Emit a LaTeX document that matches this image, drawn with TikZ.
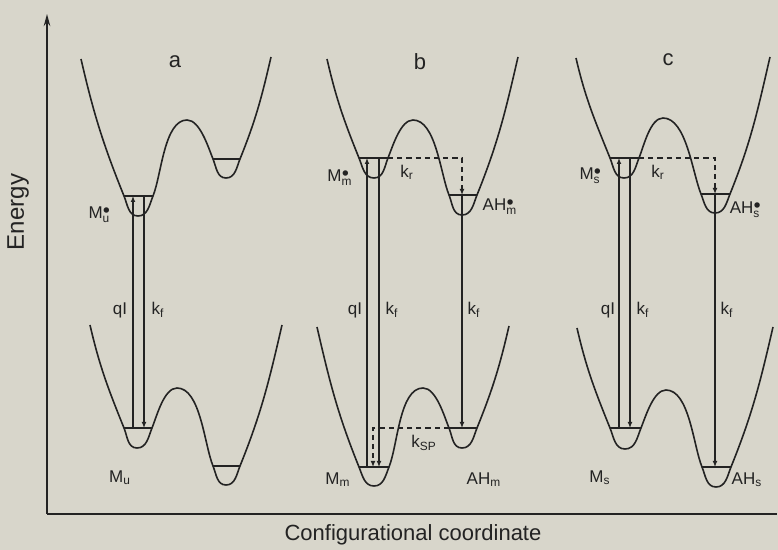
\documentclass[tikz,border=0pt]{standalone}
\usepackage{amsmath}
\usepackage{fontspec}
\setmainfont{Liberation Sans}
\usetikzlibrary{arrows.meta}

\definecolor{paper}{RGB}{216,214,203}
\definecolor{ink}{RGB}{35,35,35}

% excited and ground state labels
\newcommand*{\ex}[2]{#1$^{\bullet}_{\text{#2}}$}
\newcommand*{\gs}[2]{#1$_{\text{#2}}$}

\begin{document}
\begin{tikzpicture}
[
	x=0.5pt, y=0.5pt, yscale=-1,
	axis/.style={ink,line width=1pt},
	curve/.style={ink,line width=0.8pt},
	level/.style={ink,line width=0.6pt},
	trans/.style={ink,line width=0.55pt,-{Latex[length=3pt,width=2.4pt]}},
	nrt/.style={ink,line width=0.6pt,dash pattern=on 2.6pt off 2pt,-{Latex[length=3pt,width=2.4pt]}},
	lbl/.style={ink,inner sep=0pt,font=\fontsize{8.5}{10}\selectfont},
	panel/.style={ink,inner sep=0pt,font=\fontsize{11}{13}\selectfont},
	axlbl/.style={ink,inner sep=0pt,font=\fontsize{11}{13}\selectfont}
]

	\fill[paper] (0,0) rectangle (778,550);
	\useasboundingbox (0,0) rectangle (778,550);

	% axes
	\coordinate (O) at (47,514);
	\coordinate (ytop) at (47,14);
	\coordinate (xend) at (777,514);
	\draw[axis,-{Stealth[length=6pt,width=3.2pt]}] (O) -- (ytop);
	\draw[axis] (O) -- (xend);
	\node[axlbl,rotate=90,font=\fontsize{12}{14}\selectfont] (energy) at (18,212) {Energy};
	\node[axlbl] (config) at (413,535) {Configurational coordinate};

	% potential curves

	% a
	\draw[curve] (81,59) to[out=77,in=-112] (124,196) to[out=68,in=180] (138,216) to[out=0,in=112] (153,196)
		to[out=-68,in=180,looseness=.7] (187,120) to[out=0,in=-112,looseness=.7] (213,159)
		to[out=68,in=180] (226,178) to[out=0,in=112] (240,159) to[out=-68,in=103] (271,57);
	\draw[curve] (90,325) to[out=77,in=-112] (124,428) to[out=68,in=180] (137,448) to[out=0,in=112] (152,428)
		to[out=-68,in=180,looseness=.7] (177,388) to[out=0,in=-112,looseness=.7] (213,466)
		to[out=68,in=180] (226,485) to[out=0,in=112] (240,466) to[out=-68,in=103] (282,325);
	\draw[level] (124,196) -- (153,196);
	\draw[level] (213,159) -- (240,159);
	\draw[level] (124,428) -- (152,428);
	\draw[level] (213,466) -- (240,466);

	% b
	\draw[curve] (327,59) to[out=77,in=-112] (359,158) to[out=68,in=180] (374,178) to[out=0,in=112] (388,158)
		to[out=-68,in=180,looseness=.7] (413,120) to[out=0,in=-112,looseness=.7] (449,195)
		to[out=68,in=180] (462,215) to[out=0,in=112] (477,195) to[out=-68,in=103] (518,57);
	\draw[curve] (317,327) to[out=77,in=-112] (359,467) to[out=68,in=180] (374,486) to[out=0,in=112] (389,467)
		to[out=-68,in=180,looseness=.7] (423,388) to[out=0,in=-112,looseness=.7] (449,428)
		to[out=68,in=180] (462,448) to[out=0,in=112] (477,428) to[out=-68,in=103] (509,326);
	\draw[level] (359,158) -- (388,158);
	\draw[level] (449,195) -- (477,195);
	\draw[level] (359,467) -- (389,467);
	\draw[level] (449,428) -- (477,428);

	% c
	\draw[curve] (576,58) to[out=77,in=-112] (610,158) to[out=68,in=180] (624,178) to[out=0,in=112] (639,158)
		to[out=-68,in=180,looseness=.7] (663,118) to[out=0,in=-112,looseness=.7] (701,194)
		to[out=68,in=180] (715,213) to[out=0,in=112] (730,194) to[out=-68,in=103] (770,57);
	\draw[curve] (577,328) to[out=77,in=-112] (610,428) to[out=68,in=180] (625,449) to[out=0,in=112] (641,428)
		to[out=-68,in=180,looseness=.7] (666,390) to[out=0,in=-112,looseness=.7] (702,467)
		to[out=68,in=180] (716,487) to[out=0,in=112] (731,467) to[out=-68,in=103] (773,327);
	\draw[level] (610,158) -- (639,158);
	\draw[level] (701,194) -- (730,194);
	\draw[level] (610,428) -- (641,428);
	\draw[level] (702,467) -- (731,467);

	% transitions
	\coordinate (aQb) at (133,428);
	\coordinate (aQt) at (133,196);
	\coordinate (aFt) at (144,196);
	\coordinate (aFb) at (144,428);
	\draw[trans] (aQb) -- (aQt);
	\draw[trans] (aFt) -- (aFb);

	\coordinate (bQb) at (367,467);
	\coordinate (bQt) at (367,158);
	\coordinate (bFt) at (379,158);
	\coordinate (bFb) at (379,467);
	\coordinate (bRs) at (388,158);
	\coordinate (bRc) at (462,158);
	\coordinate (bRe) at (462,195);
	\coordinate (bGe) at (462,428);
	\coordinate (bSs) at (449,428);
	\coordinate (bSc) at (373,428);
	\coordinate (bSe) at (373,467);
	\draw[trans] (bQb) -- (bQt);
	\draw[trans] (bFt) -- (bFb);
	\draw[nrt] (bRs) -- (bRc) -- (bRe);
	\draw[trans] (bRe) -- (bGe);
	\draw[nrt] (bSs) -- (bSc) -- (bSe);

	\coordinate (cQb) at (619,428);
	\coordinate (cQt) at (619,158);
	\coordinate (cFt) at (630,158);
	\coordinate (cFb) at (630,428);
	\coordinate (cRs) at (639,158);
	\coordinate (cRc) at (715,158);
	\coordinate (cRe) at (715,194);
	\coordinate (cGe) at (715,467);
	\draw[trans] (cQb) -- (cQt);
	\draw[trans] (cFt) -- (cFb);
	\draw[nrt] (cRs) -- (cRc) -- (cRe);
	\draw[trans] (cRe) -- (cGe);

	% labels
	\node[panel] (pa) at (175,62) {a};
	\node[panel] (pb) at (420,62) {b};
	\node[panel] (pc) at (668,60) {c};

	\node[lbl] (aMx) at (100,215) {\ex{M}{u}};
	\node[lbl] (aq) at (120,310) {qI};
	\node[lbl] (af) at (158,310) {\gs{k}{f}};
	\node[lbl] (aM) at (120,478) {\gs{M}{u}};

	\node[lbl] (bMx) at (340,178) {\ex{M}{m}};
	\node[lbl] (bkr) at (407,172) {\gs{k}{r}};
	\node[lbl] (bAx) at (500,207) {\ex{AH}{m}};
	\node[lbl] (bq) at (355,310) {qI};
	\node[lbl] (bf) at (392,310) {\gs{k}{f}};
	\node[lbl] (bf2) at (474,310) {\gs{k}{f}};
	\node[lbl] (bsp) at (424,443) {\gs{k}{SP}};
	\node[lbl] (bM) at (338,480) {\gs{M}{m}};
	\node[lbl] (bA) at (484,480) {\gs{AH}{m}};

	\node[lbl] (cMx) at (591,176) {\ex{M}{s}};
	\node[lbl] (ckr) at (658,172) {\gs{k}{r}};
	\node[lbl] (cAx) at (746,210) {\ex{AH}{s}};
	\node[lbl] (cq) at (608,310) {qI};
	\node[lbl] (cf) at (643,310) {\gs{k}{f}};
	\node[lbl] (cf2) at (727,310) {\gs{k}{f}};
	\node[lbl] (cM) at (600,478) {\gs{M}{s}};
	\node[lbl] (cA) at (747,480) {\gs{AH}{s}};

\end{tikzpicture}
\end{document}
